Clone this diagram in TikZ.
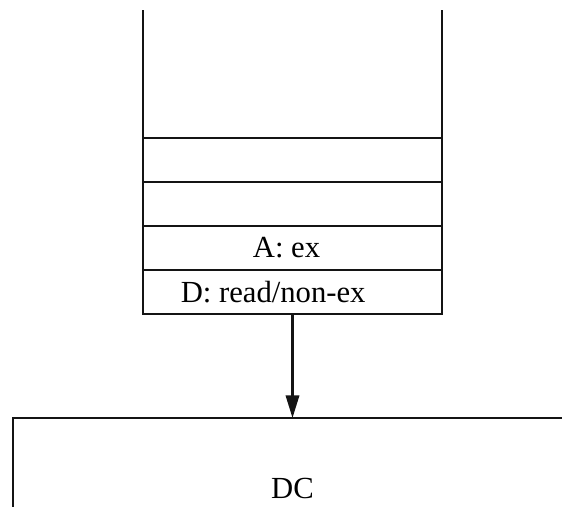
\documentclass[tikz,border=0pt]{standalone}
\usepackage{fontspec}
\setmainfont{Liberation Serif}
\usepackage{tikz}
\usetikzlibrary{arrows.meta, positioning}
\definecolor{inkblack}{RGB}{20,20,20}
\tikzset{
  slot/.style={rectangle,draw=inkblack,line width=1.9pt,minimum width=224pt,minimum height=33pt,
    inner sep=0pt,outer sep=0pt,font=\fontsize{23}{26}\selectfont},
  lbl/.style={inner sep=0pt,font=\fontsize{23}{26}\selectfont},
  wall/.style={draw=inkblack,line width=1.9pt},
  arr/.style={-{Triangle[length=17pt,width=10pt]},line width=1.9pt,color=inkblack}
}
\begin{document}
\begin{tikzpicture}[x=0.75pt,y=-0.75pt]
  \useasboundingbox (0,0) rectangle (562,507);
  % queue of requests
  \node[slot] (s1) at (292.5,160) {};
  \node[slot,below=0pt of s1] (s2) {};
  \node[slot,below=0pt of s2] (sa) {};
  \node[slot,below=0pt of sa] (sd) {};
  \node[lbl] (satext) at ([xshift=-4.5pt]sa.center) {A: ex};
  \node[lbl] (sdtext) at ([xshift=-14.5pt]sd.center) {D: read/non-ex};
  \draw[wall] (s1.north west) -- ++(0,-128);
  \draw[wall] (s1.north east) -- ++(0,-128);
  % DC box, open to the right and bottom
  \coordinate (dcL) at (13,507);
  \coordinate (dcTL) at (13,418);
  \coordinate (dcTR) at (562,418);
  \coordinate (dcIn) at (sd.south |- dcTL);
  \draw[wall] (dcL) -- (dcTL) -- (dcTR);
  \node[lbl] (dc) at (sd.south |- 0,488) {DC};
  \draw[arr] (sd.south) -- (dcIn);
\end{tikzpicture}
\end{document}
